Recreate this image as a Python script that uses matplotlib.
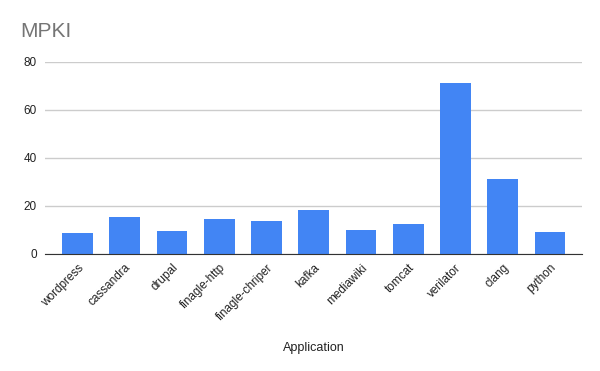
import matplotlib.pyplot as plt

# data
apps = ["wordpress", "cassandra", "drupal", "finagle-http", "finagle-chriper",
        "kafka", "mediawiki", "tomcat", "verilator", "clang", "python"]
mpki = [8.4, 15.2, 9.4, 14.4, 13.5, 18.1, 9.8, 12.3, 71.0, 31.0, 9.0]
yticks = [0, 20, 40, 60, 80]

plt.rcParams['font.family'] = ['Liberation Sans', 'DejaVu Sans']

fig = plt.figure(figsize=(6, 3.71), dpi=100)
ax = fig.add_axes([0.075, 0.3167, 0.895, 0.5175])

ax.bar(range(len(apps)), mpki, width=0.65, color="#4285f4", zorder=3)

ax.set_xlim(-0.69, len(apps) - 1 + 0.68)
ax.set_ylim(0, 80)
ax.set_yticks(yticks)
ax.yaxis.grid(True, color="#cccccc", linewidth=1, zorder=0)
ax.set_axisbelow(True)

for s in ["top", "right", "left"]:
    ax.spines[s].set_visible(False)
ax.spines["bottom"].set_color("#333333")
ax.spines["bottom"].set_zorder(4)

ax.set_xticks(range(len(apps)))
ax.set_xticklabels(apps, rotation=45, ha="right", rotation_mode="anchor",
                   fontsize=8.5, color="#222222")
ax.tick_params(axis="both", length=0, labelsize=8.5, colors="#222222")
ax.tick_params(axis="x", pad=6)
ax.tick_params(axis="y", pad=6)

ax.set_xlabel("Application", fontsize=9, color="#222222", labelpad=14)

fig.text(0.033, 0.915, "MPKI", fontsize=15, color="#757575", va="center")

fig.savefig("out.png", dpi=100)
